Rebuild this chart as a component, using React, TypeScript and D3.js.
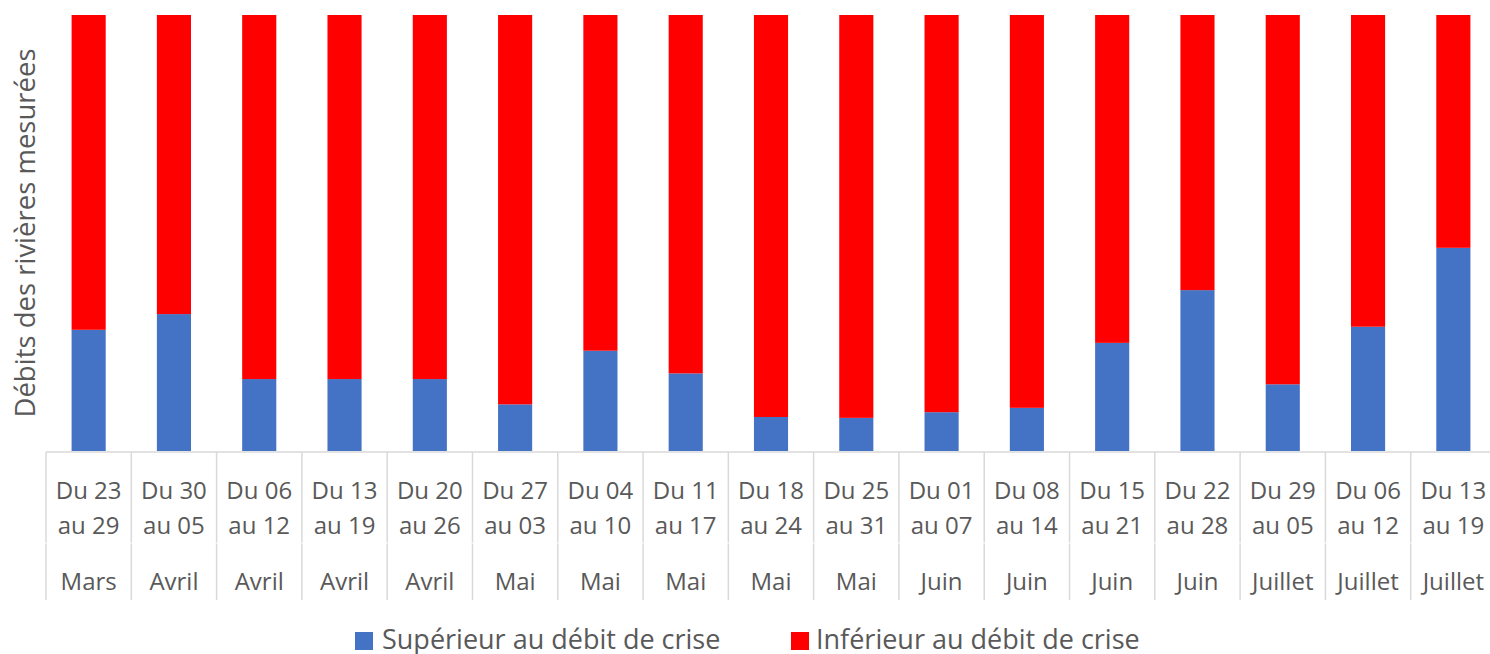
import React from "react";
import * as d3 from "d3";

const weeks = ["Du 23|au 29", "Du 30|au 05", "Du 06|au 12", "Du 13|au 19", "Du 20|au 26", "Du 27|au 03", "Du 04|au 10", "Du 11|au 17", "Du 18|au 24", "Du 25|au 31", "Du 01|au 07", "Du 08|au 14", "Du 15|au 21", "Du 22|au 28", "Du 29|au 05", "Du 06|au 12", "Du 13|au 19"];
const months = ["Mars", "Avril", "Avril", "Avril", "Avril", "Mai", "Mai", "Mai", "Mai", "Mai", "Juin", "Juin", "Juin", "Juin", "Juillet", "Juillet", "Juillet"];
const superieur = [27.8, 31.4, 16.5, 16.5, 16.5, 10.7, 23.0, 17.8, 7.8, 7.6, 8.9, 9.9, 24.8, 36.9, 15.3, 28.5, 46.6];
const inferieur = superieur.map((v) => 100 - v);
const seriesNames = ["Supérieur au débit de crise", "Inférieur au débit de crise"];
const colors = ["#4472C4", "#FF0000"];

const W = 1490, H = 654;
const left = 46, right = 1496, top = 15, bottom = 451;
const FONT = "'Open Sans', sans-serif";
const TXT = "#595959";
const GRID = "#d9d9d9";

export default function App() {
  const idx = weeks.map((_, i) => String(i));
  const x = d3.scaleBand<string>().domain(idx).range([left, right]).paddingInner(0.6).paddingOuter(0.3);
  const xc = d3.scaleBand<string>().domain(idx).range([left, right]);
  const y = d3.scaleLinear().domain([0, 100]).range([bottom, top]);
  const data = weeks.map((w, i) => ({ key: String(i), sup: superieur[i], inf: inferieur[i] }));
  const stack = d3.stack<any>().keys(["sup", "inf"])(data);
  const bounds = d3.range(weeks.length + 1).map((i) => left + i * xc.step());

  return (
    <svg width={W} height={H} style={{ display: "block", position: "absolute", left: 0, top: 0 }}>
      <rect x={0} y={0} width={W} height={H} fill="#fff" />
      {stack.map((s, si) => (
        <g key={si} fill={colors[si]}>
          {s.map((d, i) => (
            <rect key={i} x={x(String(i))} width={x.bandwidth()} y={y(d[1])} height={y(d[0]) - y(d[1])} />
          ))}
        </g>
      ))}
      <line x1={left} x2={right} y1={bottom + 1} y2={bottom + 1} stroke={GRID} strokeWidth={1.5} />
      {bounds.map((bx, i) => (
        <g key={i} stroke={GRID} strokeWidth={1.5}>
          <line x1={bx} x2={bx} y1={bottom + 1} y2={542.5} />
          <line x1={bx} x2={bx} y1={543.5} y2={600} />
        </g>
      ))}
      <g fontFamily={FONT} fontSize={24} fill={TXT} textAnchor="middle">
        {weeks.map((w, i) => {
          const cx = (xc(String(i)) as number) + xc.bandwidth() / 2;
          const [a, b] = w.split("|");
          return (
            <g key={i}>
              <text x={cx} y={499}>{a}</text>
              <text x={cx} y={534}>{b}</text>
              <text x={cx} y={590}>{months[i]}</text>
            </g>
          );
        })}
      </g>
      <text transform={`translate(35,${(top + bottom) / 2}) rotate(-90)`} textAnchor="middle" fontFamily={FONT} fontSize={27.5} fill={TXT}>
        Débits des rivières mesurées
      </text>
      <g fontFamily={FONT} fontSize={27} fill={TXT}>
        <rect x={355} y={632} width={18} height={18} fill={colors[0]} />
        <text x={382} y={649}>{seriesNames[0]}</text>
        <rect x={791} y={632} width={18} height={18} fill={colors[1]} />
        <text x={816} y={649}>{seriesNames[1]}</text>
      </g>
    </svg>
  );
}
